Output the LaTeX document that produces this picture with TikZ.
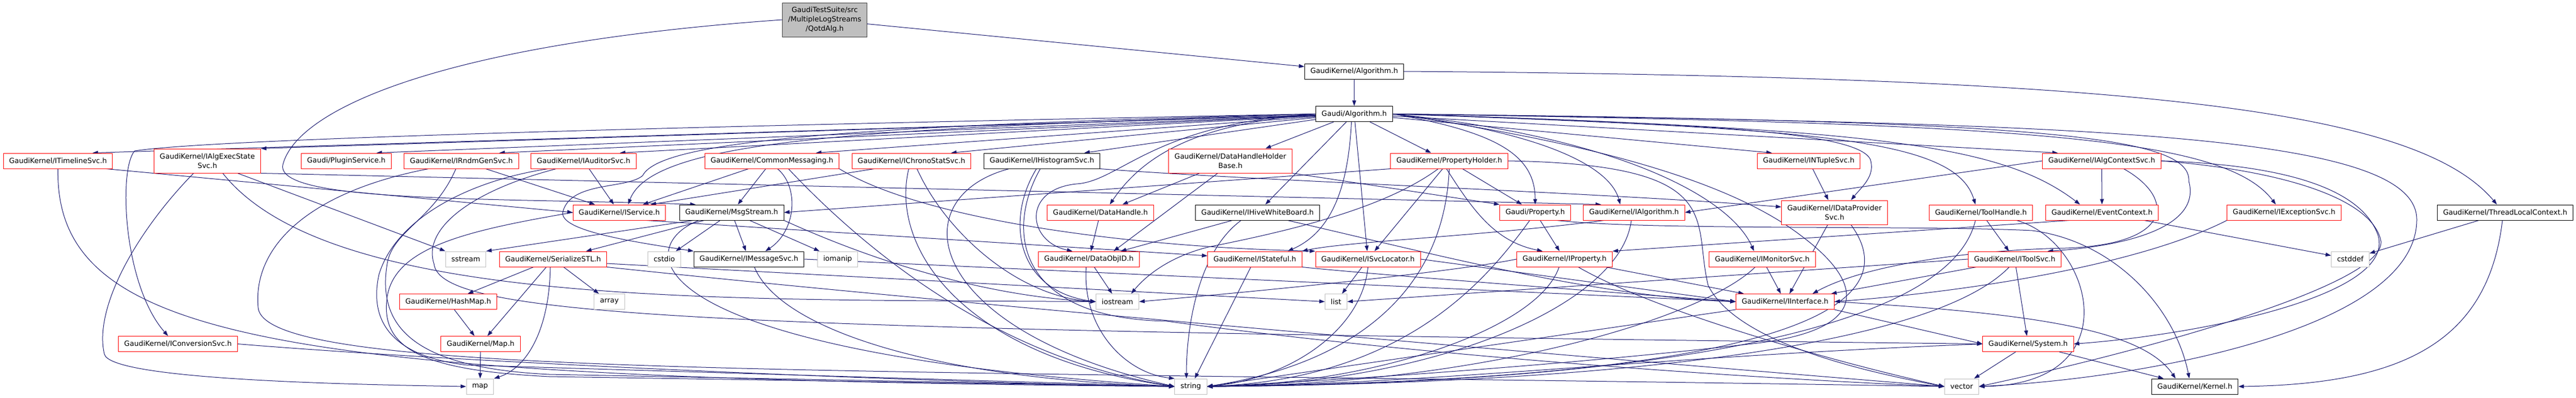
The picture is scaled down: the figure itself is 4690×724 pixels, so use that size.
\documentclass[tikz,border=0pt]{standalone}
\usepackage{fontspec}
\setmainfont{DejaVu Sans}
\usepackage{tikz}
\usetikzlibrary{arrows.meta,backgrounds}
\definecolor{edgeblue}{HTML}{191970}
\definecolor{leafgray}{HTML}{BFBFBF}
\definecolor{rootline}{HTML}{404040}
\tikzstyle{redbox} = [draw=red, fill=white, line width=1pt,
    rectangle, minimum height=28pt, inner xsep=10.5pt, inner ysep=5pt,
    align=center, font=\fontsize{13}{17}\selectfont]
\tikzstyle{blackbox} = [redbox, draw=black]
\tikzstyle{leafbox} = [redbox, draw=leafgray]
\tikzstyle{rootbox} = [redbox, draw=rootline, fill=leafgray]
\tikzstyle{incl} = [draw=edgeblue, line width=1pt, -{Triangle[length=10pt,width=7pt]}]

\begin{document}
\begin{tikzpicture}[x=1pt,y=-1pt]
\useasboundingbox (0,0) rectangle (4690,724);
\node[rootbox, minimum height=62pt] (qotd) at (1501.5,36) {GaudiTestSuite/src\\/MultipleLogStreams\\/QotdAlg.h};
\node[blackbox] (algk) at (2465.5,130) {GaudiKernel/Algorithm.h};
\node[blackbox] (galg) at (2465.5,207.5) {Gaudi/Algorithm.h};

\node[redbox] (timeline) at (105.5,293) {GaudiKernel/ITimelineSvc.h};
\node[redbox, minimum height=44pt] (execstate) at (377.5,293) {GaudiKernel/IAlgExecState\\Svc.h};
\node[redbox] (plugin) at (630.5,293) {Gaudi/PluginService.h};
\node[redbox] (rndm) at (840,293) {GaudiKernel/IRndmGenSvc.h};
\node[redbox] (auditor) at (1062.5,293) {GaudiKernel/IAuditorSvc.h};
\node[redbox] (commsg) at (1405.5,293) {GaudiKernel/CommonMessaging.h};
\node[redbox] (chrono) at (1659.5,293) {GaudiKernel/IChronoStatSvc.h};
\node[blackbox] (histo) at (1897,293) {GaudiKernel/IHistogramSvc.h};
\node[redbox, minimum height=44pt] (dhhb) at (2240,293) {GaudiKernel/DataHandleHolder\\Base.h};
\node[redbox] (propholder) at (2638.5,293) {GaudiKernel/PropertyHolder.h};
\node[redbox] (ntuple) at (3293,293) {GaudiKernel/INTupleSvc.h};
\node[redbox] (algctx) at (3826.5,293) {GaudiKernel/IAlgContextSvc.h};

\node[redbox] (iservice) at (1127.5,387) {GaudiKernel/IService.h};
\node[blackbox] (msgstream) at (1332,387) {GaudiKernel/MsgStream.h};
\node[redbox] (dhandle) at (2003.5,387) {GaudiKernel/DataHandle.h};
\node[blackbox] (hive) at (2289.5,387) {GaudiKernel/IHiveWhiteBoard.h};
\node[redbox] (gprop) at (2795,387) {Gaudi/Property.h};
\node[redbox] (ialg) at (2975,387) {GaudiKernel/IAlgorithm.h};
\node[redbox, minimum height=44pt] (dataprov) at (3340,387) {GaudiKernel/IDataProvider\\Svc.h};
\node[redbox] (toolhandle) at (3606.5,387) {GaudiKernel/ToolHandle.h};
\node[redbox] (evtctx) at (3827,387) {GaudiKernel/EventContext.h};
\node[redbox] (excsvc) at (4158.5,387) {GaudiKernel/IExceptionSvc.h};
\node[blackbox] (tlc) at (4561,387) {GaudiKernel/ThreadLocalContext.h};

\node[leafbox] (sstream) at (848,472) {sstream};
\node[redbox] (serial) at (1007,472) {GaudiKernel/SerializeSTL.h};
\node[leafbox] (cstdio) at (1209.5,472) {cstdio};
\node[blackbox] (msgsvc) at (1363.5,472) {GaudiKernel/IMessageSvc.h};
\node[leafbox] (iomanip) at (1525,472) {iomanip};
\node[redbox] (dataobjid) at (1982.5,472) {GaudiKernel/DataObjID.h};
\node[redbox] (stateful) at (2284.5,472) {GaudiKernel/IStateful.h};
\node[redbox] (svcloc) at (2490.5,472) {GaudiKernel/ISvcLocator.h};
\node[redbox] (iprop) at (2848.5,472) {GaudiKernel/IProperty.h};
\node[redbox] (monitor) at (3208.5,472) {GaudiKernel/IMonitorSvc.h};
\node[redbox] (toolsvc) at (3668,472) {GaudiKernel/IToolSvc.h};
\node[leafbox] (cstddef) at (4279,472) {cstddef};

\node[redbox] (hashmap) at (816,549.5) {GaudiKernel/HashMap.h};
\node[leafbox] (array) at (1109.5,549.5) {array};
\node[leafbox] (iostream) at (2034.5,549.5) {iostream};
\node[leafbox] (list) at (2432.5,549.5) {list};
\node[redbox] (iinterface) at (3250,549.5) {GaudiKernel/IInterface.h};

\node[redbox] (convsvc) at (324,626.5) {GaudiKernel/IConversionSvc.h};
\node[redbox] (mapk) at (875,626.5) {GaudiKernel/Map.h};
\node[redbox] (system) at (3692.5,626.5) {GaudiKernel/System.h};

\node[leafbox] (map) at (874,704) {map};
\node[leafbox] (string) at (2168,704) {string};
\node[leafbox] (vector) at (3571.5,704) {vector};
\node[blackbox] (kernel) at (3996,704) {GaudiKernel/Kernel.h};

\begin{scope}[on background layer]
\fill[white] (0,0) rectangle (4690,724);
\draw[incl] (qotd) -- (algk);
\draw[incl] (qotd.west) .. controls (800,80) and (540,200) .. (515,300) .. controls (500,370) and (900,360) .. ([xshift=30]msgstream.north west);
\draw[incl] (algk) -- (galg);
\draw[incl] (algk.east) .. controls (3900,140) and (4400,200) .. ([xshift=-15]tlc.north);

\draw[incl] (galg) -- ([xshift=63]timeline.north);
\draw[incl] (galg) -- (execstate.north east);
\draw[incl] (galg) -- ([xshift=55]plugin.north);
\draw[incl] (galg) -- ([xshift=69]rndm.north);
\draw[incl] (galg) -- ([xshift=66]auditor.north);
\draw[incl] (galg) -- ([xshift=80]commsg.north);
\draw[incl] (galg) -- ([xshift=72]chrono.north);
\draw[incl] (galg) -- ([xshift=77]histo.north);
\draw[incl] (galg) -- ([xshift=64]dhhb.north);
\draw[incl] (galg) -- ([xshift=-33]propholder.north);
\draw[incl] (galg) -- ([xshift=-67]ntuple.north);
\draw[incl] (galg) -- ([xshift=-80]algctx.north);
\draw[incl] (galg.west) .. controls (1500,225) and (400,250) .. (245,275) .. controls (215,310) and (225,520) .. ([xshift=-18]convsvc.north);
\draw[incl] (galg.west) .. controls (1600,235) and (1190,250) .. ([xshift=16]iservice.north);
\draw[incl] (galg.west) .. controls (1500,230) and (1200,260) .. (1170,320) .. controls (1140,345) and (1040,330) .. (1025,385) .. controls (1015,420) and (1150,440) .. (msgsvc.north west);
\draw[incl] (galg.west) .. controls (2200,225) and (2090,270) .. ([xshift=17]dhandle.north);
\draw[incl] (galg.west) .. controls (2100,225) and (2040,330) .. (1960,335) .. controls (1860,345) and (1870,440) .. ([xshift=-30]dataobjid.north);
\draw[incl] (galg) -- (hive);
\draw[incl] ([xshift=-5]galg.south) .. controls (2455,330) and (2430,420) .. ([xshift=60]stateful.north);
\draw[incl] (galg) -- (svcloc);
\draw[incl] (galg.east) .. controls (2720,240) and (2795,280) .. (gprop.north);
\draw[incl] (galg.east) .. controls (2800,240) and (2930,300) .. ([xshift=-25]ialg.north);
\draw[incl] (galg.east) .. controls (2950,250) and (3150,360) .. ([xshift=-15]monitor.north);
\draw[incl] (galg.east) .. controls (3100,225) and (3380,240) .. (3405,290) .. controls (3415,320) and (3390,340) .. ([xshift=30]dataprov.north);
\draw[incl] (galg.east) .. controls (3300,235) and (3560,250) .. ([xshift=-10]toolhandle.north);
\draw[incl] (galg.east) .. controls (3400,235) and (3640,260) .. ([xshift=-40]evtctx.north);
\draw[incl] (galg.east) .. controls (3700,225) and (4050,250) .. ([xshift=-15]excsvc.north);
\draw[incl] (galg.east) .. controls (3700,220) and (3990,245) .. (3985,330) .. controls (4010,420) and (3850,450) .. ([xshift=60]toolsvc.north);
\draw[incl] (galg.east) .. controls (3800,225) and (4400,240) .. (4400,400) .. controls (4400,600) and (3900,690) .. (vector.east);
\draw[incl] (galg.east) .. controls (2900,260) and (3150,330) .. (3280,430) .. controls (3400,520) and (3400,600) .. (3200,625) .. controls (2900,660) and (2500,690) .. (string.east);

\draw[incl] ([xshift=88]timeline.south) -- (iservice.west);
\draw[incl] (timeline.south) .. controls (100,620) and (500,690) .. (string.west);
\draw[incl] (execstate.south east) -- ([xshift=-60]ialg.north);
\draw[incl] ([xshift=55]execstate.south) -- (sstream.north west);
\draw[incl] ([xshift=28]execstate.south) .. controls (600,560) and (1300,545) .. (iostream.west);
\draw[incl] ([xshift=-25]execstate.south) .. controls (250,420) and (170,560) .. (190,645) .. controls (200,690) and (600,700) .. (map.west);
\draw[incl] (rndm) -- (iservice);
\draw[incl] ([xshift=-10]rndm.south) .. controls (790,400) and (715,420) .. (705,480) .. controls (685,600) and (760,670) .. (1000,682) -- (string.west);
\draw[incl] ([xshift=-60]rndm.south) .. controls (560,350) and (460,450) .. (470,560) .. controls (480,690) and (1500,670) .. (vector.west);
\draw[incl] (auditor) -- (iservice);
\draw[incl] ([xshift=-65]auditor.south) .. controls (850,330) and (720,400) .. (690,500) .. controls (670,590) and (720,650) .. (850,665) -- (string.west);
\draw[incl] ([xshift=-50]auditor.south) .. controls (850,350) and (770,420) .. (790,480) .. controls (800,580) and (1300,600) .. (system.west);
\draw[incl] (commsg) -- (iservice);
\draw[incl] (commsg) -- (msgstream);
\draw[incl] ([xshift=10]commsg.south) .. controls (1455,340) and (1450,420) .. ([xshift=30]msgsvc.north);
\draw[incl] (commsg.south east) .. controls (1680,400) and (2050,450) .. (svcloc.north west);
\draw[incl] ([xshift=30]commsg.south) .. controls (1560,440) and (1800,650) .. (string.west);
\draw[incl] ([xshift=-68]chrono.south) -- ([xshift=57]iservice.north);
\draw[incl] ([xshift=-5]chrono.south) .. controls (1620,450) and (1750,650) .. (string.west);
\draw[incl] ([xshift=10]chrono.south) .. controls (1720,420) and (1850,540) .. (iostream.west);
\draw[incl] (histo.south east) .. controls (2300,330) and (2900,350) .. ([yshift=10]dataprov.west);
\draw[incl] ([xshift=-10]histo.south) .. controls (1830,400) and (1850,530) .. (iostream.west);
\draw[incl] ([xshift=-60]histo.south) .. controls (1640,360) and (1680,600) .. (string.west);
\draw[incl] ([xshift=-3]histo.south) .. controls (1830,420) and (1850,580) .. (2124,585) .. controls (2600,650) and (3200,690) .. (vector.west);
\draw[incl] ([xshift=-56]dhhb.south) -- ([xshift=40]dhandle.north);
\draw[incl] ([xshift=-23]dhhb.south) -- ([xshift=45]dataobjid.north);
\draw[incl] (dhhb.south east) -- (gprop.north west);
\draw[incl] (propholder) -- (gprop);
\draw[incl] ([xshift=-5]propholder.south) .. controls (2680,380) and (2720,440) .. ([xshift=-40]iprop.north);
\draw[incl] (propholder) -- (svcloc);
\draw[incl] (propholder.south) .. controls (2630,520) and (2480,660) .. (string.east);
\draw[incl] (propholder.south west) -- (msgstream.east);
\draw[incl] ([xshift=-20]propholder.south) .. controls (2520,380) and (2350,420) .. (2200,450) .. controls (2120,470) and (2080,510) .. ([xshift=25]iostream.north);
\draw[incl] (propholder.east) .. controls (3150,300) and (3080,400) .. (3110,520) .. controls (3150,600) and (3300,660) .. (vector.west);
\draw[incl] (ntuple) -- (dataprov);
\draw[incl] (algctx) -- (evtctx);
\draw[incl] (algctx.west) -- (ialg.east);
\draw[incl] ([xshift=40]algctx.south) .. controls (3960,360) and (3960,445) .. (3760,452) .. controls (3600,455) and (3400,480) .. ([xshift=50]iinterface.north);
\draw[incl] (algctx.east) .. controls (4150,300) and (4300,340) .. (4330,430) .. controls (4360,540) and (4000,610) .. (system.east);
\draw[incl] (algctx.east) .. controls (4150,310) and (4320,360) .. (4335,440) .. controls (4340,520) and (3900,640) .. (vector.east);
\draw[incl] (toolhandle) -- (toolsvc);
\draw[incl] ([xshift=65]toolhandle.south) .. controls (3810,440) and (3880,700) .. (vector.east);
\draw[incl] ([xshift=-10]toolhandle.south) .. controls (3540,640) and (2800,700) .. (string.east);
\draw[incl] (evtctx) -- (cstddef);
\draw[incl] ([xshift=-60]evtctx.south) -- (iprop.north east);
\draw[incl] (excsvc.south west) .. controls (3900,480) and (3600,530) .. (iinterface.east);
\draw[incl] (tlc) -- (cstddef);
\draw[incl] ([xshift=-5]tlc.south) .. controls (4530,620) and (4380,700) .. (kernel.east);

\draw[incl] ([xshift=50]iservice.south) -- ([yshift=6]stateful.west);
\draw[incl] (iservice.west) .. controls (850,420) and (720,450) .. (705,540) .. controls (690,640) and (780,675) .. (1000,686) -- (string.west);
\draw[incl] ([xshift=-70]msgstream.south) -- (sstream.north east);
\draw[incl] ([xshift=-50]msgstream.south) -- ([xshift=60]serial.north);
\draw[incl] (msgstream) -- (cstdio);
\draw[incl] (msgstream) -- (msgsvc);
\draw[incl] (msgstream) -- (iomanip);
\draw[incl] ([xshift=-60]msgstream.south) .. controls (1150,450) and (1150,640) .. (string.west);
\draw[incl] (msgstream.south east) .. controls (1600,480) and (1800,540) .. (iostream.west);
\draw[incl] (dhandle) -- (dataobjid);
\draw[incl] ([xshift=-46]hive.south) -- ([xshift=58]dataobjid.north);
\draw[incl] ([xshift=-30]hive.south) .. controls (2180,460) and (2160,600) .. ([xshift=-8]string.north);
\draw[incl] ([xshift=55]hive.south) .. controls (2600,460) and (2900,540) .. (iinterface.west);
\draw[incl] (gprop) -- (iprop);
\draw[incl] ([xshift=-10]gprop.south) .. controls (2700,520) and (2550,690) .. (string.east);
\draw[incl] ([xshift=40]gprop.south) .. controls (3000,420) and (3500,410) .. (3700,420) .. controls (3850,440) and (3960,560) .. ([xshift=-10]kernel.north);
\draw[incl] ([xshift=-55]ialg.south) .. controls (2700,430) and (2450,440) .. (stateful.north east);
\draw[incl] ([xshift=-5]ialg.south) .. controls (2950,560) and (2600,700) .. (string.east);
\draw[incl] (dataprov) -- (iinterface);
\draw[incl] ([xshift=30]dataprov.south) .. controls (3450,520) and (3400,690) .. (string.east);

\draw[incl] (serial) -- (hashmap);
\draw[incl] (serial) -- (mapk);
\draw[incl] ([xshift=-5]serial.south) .. controls (1000,600) and (960,670) .. (map.north east);
\draw[incl] (serial) -- (array);
\draw[incl] ([yshift=-8]serial.east) -- (list.west);
\draw[incl] (serial.south east) .. controls (1800,560) and (3000,660) .. (vector.west);
\draw[incl] ([xshift=10]msgsvc.south) .. controls (1420,600) and (1700,690) .. (string.west);
\draw[incl] (msgsvc.east) -- (iinterface.west);
\draw[incl] (dataobjid) -- (iostream);
\draw[incl] ([xshift=-5]dataobjid.south) .. controls (1970,600) and (2050,680) .. (string.north west);
\draw[incl] (stateful) -- (string);
\draw[incl] (stateful.south east) .. controls (2500,500) and (2900,530) .. (iinterface.west);
\draw[incl] (svcloc) -- (list);
\draw[incl] (svcloc.south) .. controls (2480,600) and (2350,690) .. (string.east);
\draw[incl] (svcloc.east) -- (iinterface.west);
\draw[incl] (iprop) -- (iinterface);
\draw[incl] (iprop.west) .. controls (2650,495) and (2300,530) .. (iostream.east);
\draw[incl] ([xshift=25]iprop.south) .. controls (3000,560) and (3300,650) .. (vector.west);
\draw[incl] ([xshift=-10]iprop.south) .. controls (2800,600) and (2500,700) .. (string.east);
\draw[incl] (monitor) -- (iinterface);
\draw[incl] ([xshift=-13]monitor.south) .. controls (3100,580) and (2700,700) .. (string.east);
\draw[incl] (toolsvc) -- (system);
\draw[incl] ([xshift=-70]toolsvc.south) -- ([xshift=-6]iinterface.north east);
\draw[incl] (toolsvc.west) -- (list.east);
\draw[incl] ([xshift=-10]toolsvc.south) .. controls (3500,650) and (2800,700) .. (string.east);

\draw[incl] (hashmap) -- (mapk);
\draw[incl] (mapk) -- (map);
\draw[incl] (iinterface.south east) -- (system.west);
\draw[incl] (iinterface.east) .. controls (3700,570) and (3900,600) .. ([xshift=-35]kernel.north);
\draw[incl] (iinterface.south west) -- (string.east);
\draw[incl] (convsvc.east) .. controls (900,665) and (1800,700) .. (string.west);
\draw[incl] (system) -- (vector);
\draw[incl] (system) -- (kernel);
\draw[incl] (system.west) .. controls (3000,650) and (2600,700) .. (string.east);
\end{scope}
\end{tikzpicture}
\end{document}
